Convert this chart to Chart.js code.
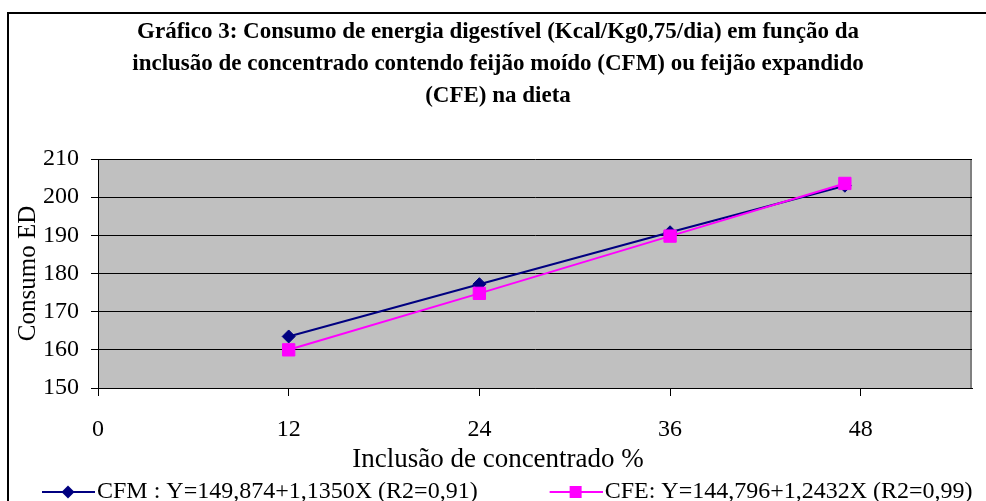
<!DOCTYPE html>
<html>
<head>
<meta charset="utf-8">
<script src="https://cdn.jsdelivr.net/npm/chart.js@4.4.1/dist/chart.umd.min.js"></script>
<style>
    html, body { margin: 0; padding: 0; background: #fff; overflow: hidden; }
    #frame { position: absolute; left: 7px; top: 12px; width: 1000px; height: 600px; border: 2px solid #000; }
    #chart { position: absolute; left: 0; top: 0; }
</style>
</head>
<body>
<div id="frame"></div>
<canvas id="chart" width="996" height="514" style="width:996px;height:514px"></canvas>
<script>
    // Data
    var inclusao = [12, 24, 36, 47];
    var consumoCFM = [163.5, 177.2, 190.8, 203.0];
    var consumoCFE = [160.0, 174.8, 189.8, 203.6];
    var xTicks = [0, 12, 24, 36, 48];
    var yTicks = [150, 160, 170, 180, 190, 200, 210];
    var labelCFM = "CFM : Y=149,874+1,1350X (R2=0,91)";
    var labelCFE = "CFE: Y=144,796+1,2432X (R2=0,99)";
    var titleLines = [
        "Gráfico 3: Consumo de energia digestível (Kcal/Kg0,75/dia) em função da",
        "inclusão de concentrado contendo feijão moído (CFM) ou feijão expandido",
        "(CFE) na dieta"
    ];

    var serif = "'Liberation Serif', 'Times New Roman', serif";

    function toPoints(xs, ys) {
        return xs.map(function (x, i) { return { x: x, y: ys[i] }; });
    }

    // legend icon: a short line with the marker in the middle
    function legendIcon(color, marker) {
        var c = document.createElement('canvas');
        c.width = 101;
        c.height = 20;
        var g = c.getContext('2d');
        g.strokeStyle = color;
        g.lineWidth = 2;
        g.beginPath();
        g.moveTo(48, 10);
        g.lineTo(101, 10);
        g.stroke();
        g.fillStyle = color;
        g.beginPath();
        if (marker === 'diamond') {
            g.moveTo(74, 3.5); g.lineTo(80.5, 10); g.lineTo(74, 16.5); g.lineTo(67.5, 10);
        } else {
            g.rect(68, 4, 12, 12);
        }
        g.fill();
        return c;
    }

    // pad the first legend text so the second entry lands in its own column
    function padText(text, target, font) {
        var ctx = document.createElement('canvas').getContext('2d');
        ctx.font = font;
        var s = text;
        while (ctx.measureText(s + ' ').width <= target) s += ' ';
        return s;
    }

    var icons = [legendIcon('#000080', 'diamond'), legendIcon('#ff00ff', 'square')];

    var plotBg = {
        id: 'plotBg',
        beforeDraw: function (chart) {
            var a = chart.chartArea, ctx = chart.ctx;
            ctx.save();
            ctx.fillStyle = '#c0c0c0';
            ctx.fillRect(a.left, a.top, a.right - a.left, a.bottom - a.top);
            ctx.strokeStyle = '#808080';
            ctx.lineWidth = 2;
            ctx.beginPath();
            ctx.moveTo(a.right - 1, a.top);
            ctx.lineTo(a.right - 1, a.bottom);
            ctx.stroke();
            ctx.restore();
        }
    };

    var ctx = document.getElementById('chart').getContext('2d');
    var myChart = new Chart(ctx, {
        type: 'line',
        data: {
            datasets: [{
                label: labelCFM,
                data: toPoints(inclusao, consumoCFM),
                borderColor: '#000080',
                backgroundColor: '#000080',
                borderWidth: 2,
                pointStyle: 'rectRot',
                pointRadius: 6.5,
                pointBorderWidth: 1,
                order: 1
            }, {
                label: labelCFE,
                data: toPoints(inclusao, consumoCFE),
                borderColor: '#ff00ff',
                backgroundColor: '#ff00ff',
                borderWidth: 2,
                pointStyle: 'rect',
                pointRadius: 8.7,
                pointBorderWidth: 1,
                order: 0
            }]
        },
        options: {
            responsive: false,
            animation: false,
            devicePixelRatio: 1,
            layout: { padding: 0 },
            scales: {
                x: {
                    type: 'linear',
                    min: 0,
                    max: 55,
                    afterBuildTicks: function (s) { s.ticks = xTicks.map(function (v) { return { value: v }; }); },
                    afterFit: function (s) { s.height = 56; },
                    grid: { drawOnChartArea: false, color: '#000', tickLength: 8 },
                    border: { color: '#000', width: 1 },
                    ticks: { color: '#000', padding: 19.6, maxRotation: 0, font: { family: serif, size: 24 } }
                },
                y: {
                    min: 150,
                    max: 210,
                    afterBuildTicks: function (s) { s.ticks = yTicks.map(function (v) { return { value: v }; }); },
                    afterFit: function (s) { s.width = 98; },
                    grid: { color: '#000', tickLength: 7 },
                    border: { color: '#000', width: 1 },
                    ticks: { color: '#000', padding: 12, font: { family: serif, size: 24 } },
                    title: {
                        display: true,
                        text: 'Consumo ED',
                        color: '#000',
                        padding: { top: 13.5, bottom: 0 },
                        font: { family: serif, size: 25 }
                    }
                },
                yr: {
                    position: 'right',
                    afterFit: function (s) { s.width = 24; },
                    grid: { display: false },
                    border: { display: false },
                    ticks: { display: false }
                }
            },
            plugins: {
                tooltip: { enabled: false },
                title: {
                    display: true,
                    text: titleLines,
                    color: '#000',
                    font: { family: serif, size: 23, weight: 'bold', lineHeight: '32px' },
                    padding: { top: 16, bottom: 47 }
                },
                subtitle: {
                    display: true,
                    position: 'bottom',
                    weight: 500,
                    text: 'Inclusão de concentrado %',
                    color: '#000',
                    font: { family: serif, size: 27, lineHeight: '32px' },
                    padding: { top: 0, bottom: 0 }
                },
                legend: {
                    position: 'bottom',
                    align: 'start',
                    labels: {
                        usePointStyle: true,
                        pointStyleWidth: 81,
                        padding: 4,
                        color: '#000',
                        font: { family: serif, size: 24 },
                        generateLabels: function (chart) {
                            var font = '24px ' + serif;
                            return chart.data.datasets.map(function (ds, i) {
                                return {
                                    text: i === 0 ? padText(ds.label, 416, font) : ds.label,
                                    fillStyle: ds.borderColor,
                                    strokeStyle: ds.borderColor,
                                    fontColor: '#000',
                                    lineWidth: 0,
                                    pointStyle: icons[i],
                                    hidden: false,
                                    datasetIndex: i
                                };
                            });
                        }
                    }
                }
            }
        },
        plugins: [plotBg]
    });
</script>
</body>
</html>
